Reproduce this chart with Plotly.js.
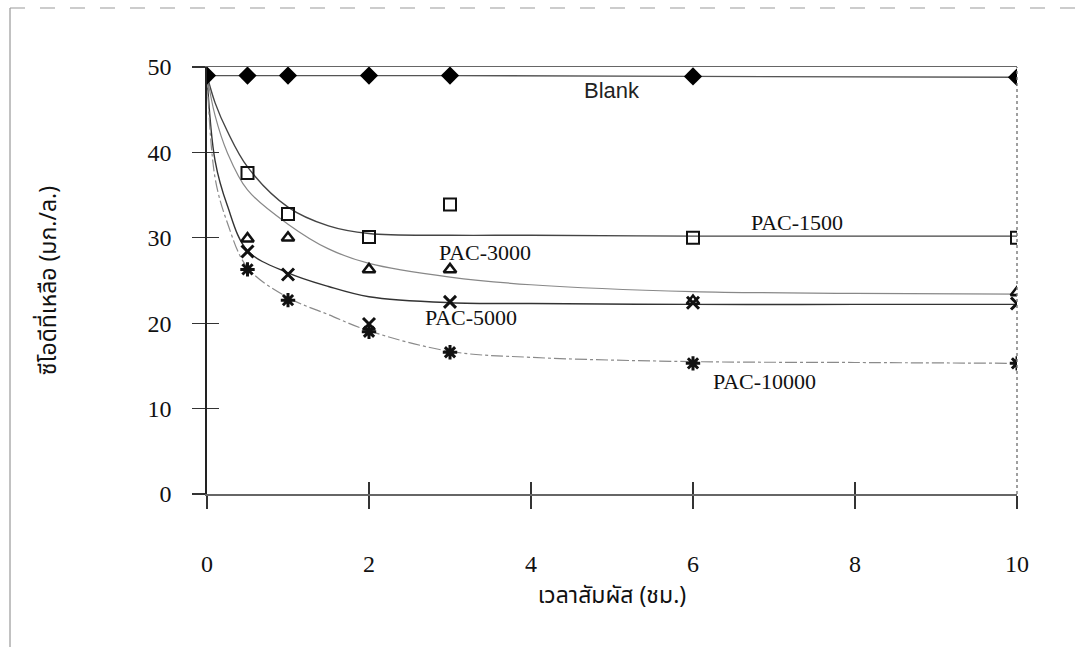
<!DOCTYPE html>
<html>
<head>
<meta charset="utf-8">
<script src="https://cdn.plot.ly/plotly-3.0.1.min.js"></script>
<style>
  html, body { margin: 0; padding: 0; background: #ffffff; }
  #chart { width: 1090px; height: 647px; }
</style>
</head>
<body>
<div id="chart"></div>
<script>
// ---- data ----
const blankTime = [0, 0.5, 1, 2, 3, 6, 10];
const blank     = [49, 49, 49, 49, 49, 48.9, 48.8];

const time      = [0.5, 1, 2, 3, 6, 10];
const pac1500   = [37.6, 32.8, 30.1, 33.9, 30.0, 30.0];
const pac3000   = [29.9, 30.0, 26.3, 26.3, 22.6, 23.6];
const pac5000   = [28.4, 25.7, 19.9, 22.5, 22.4, 22.3];
const pac10000  = [26.3, 22.7, 19.0, 16.6, 15.3, 15.3];

// trend curves as drawn in the picture (read at these times)
const fitTime     = [0, 0.1, 0.25, 0.5, 1, 1.5, 2, 3, 4, 6, 8, 10];
const fit1500     = [49, 45.8, 42.5, 38.3, 33.6, 31.4, 30.5, 30.3, 30.3, 30.2, 30.2, 30.2];
const fit3000     = [49, 44.3, 40.0, 35.6, 31.6, 28.7, 27.0, 25.4, 24.5, 23.7, 23.5, 23.4];
const fit5000     = [49, 39.0, 33.8, 28.5, 25.9, 24.3, 23.1, 22.4, 22.3, 22.2, 22.2, 22.2];
const fit10000    = [49, 37.0, 31.8, 26.5, 23.0, 21.0, 19.1, 16.7, 16.0, 15.5, 15.4, 15.3];

const xTickVals = [0, 2, 4, 6, 8, 10];
const yTickVals = [0, 10, 20, 30, 40, 50];

const xTitle = 'เวลาสัมผัส (ชม.)';
const yTitle = 'ซีโอดีที่เหลือ (มก./ล.)';
const seriesNames = ['Blank', 'PAC-1500', 'PAC-3000', 'PAC-5000', 'PAC-10000'];

// ---- traces ----
const serif = '"Liberation Serif", "Times New Roman", serif';
const thai = '"Noto Sans Thai", "Noto Sans", "DejaVu Sans", sans-serif';

function fitTrace(y, color, width, dash) {
  return { x: fitTime, y: y, type: 'scatter', mode: 'lines',
    line: { shape: 'spline', smoothing: 1.0, color: color, width: width, dash: dash },
    hoverinfo: 'skip', showlegend: false };
}
function markTrace(y, name, symbol, size, lw) {
  return { x: time, y: y, name: name, type: 'scatter', mode: 'markers',
    marker: { symbol: symbol, size: size, color: '#111', line: { color: '#111', width: lw } },
    showlegend: false };
}

const traces = [
  fitTrace(fit1500, '#444', 1.4, 'solid'),
  fitTrace(fit3000, '#888', 1.2, 'solid'),
  fitTrace(fit5000, '#333', 1.4, 'solid'),
  fitTrace(fit10000, '#8a8a8a', 1.2, '12px,3px,3px,3px'),
  // Blank drawn on the overlay axes (same ranges) so the inside tick marks are drawn
  { x: blankTime, y: blank, name: seriesNames[0], type: 'scatter', mode: 'lines+markers',
    xaxis: 'x2', yaxis: 'y2',
    line: { color: '#555', width: 1.3 },
    marker: { symbol: 'diamond', size: 14, color: '#000' }, showlegend: false },
  markTrace(pac1500, seriesNames[1], 'square-open', 12, 2),
  markTrace(pac3000, seriesNames[2], 'triangle-up-open', 11, 2.5),
  markTrace(pac5000, seriesNames[3], 'x-thin-open', 12, 3),
  markTrace(pac10000, seriesNames[4], 'asterisk-open', 12, 3)
];

const layout = {
  width: 1090, height: 647,
  margin: { l: 207, r: 73, t: 67, b: 153 },
  paper_bgcolor: '#ffffff', plot_bgcolor: '#ffffff',
  showlegend: false,
  xaxis: {
    range: [0, 10], tickvals: xTickVals, ticktext: xTickVals.map(String),
    ticks: 'outside', ticklen: 13, tickwidth: 1.3, tickcolor: '#333',
    showline: true, linecolor: '#666', linewidth: 1.5, mirror: true,
    showgrid: false, zeroline: false,
    ticklabelstandoff: 35,
    tickfont: { family: serif, size: 24, color: '#111' },
    title: { text: xTitle, font: { family: thai, size: 23, color: '#111' }, standoff: 10 },
    automargin: true, fixedrange: true
  },
  xaxis2: {
    overlaying: 'x', anchor: 'y2', side: 'bottom', range: [0, 10], tickvals: xTickVals,
    ticks: 'inside', ticklen: 12, tickwidth: 1.3, tickcolor: '#333',
    showticklabels: false, showline: false, showgrid: false, zeroline: false, fixedrange: true
  },
  yaxis: {
    range: [0, 50], tickvals: yTickVals, ticktext: yTickVals.map(String),
    ticks: 'outside', ticklen: 13, tickwidth: 1.3, tickcolor: '#333',
    showline: true, linecolor: '#222', linewidth: 1.6,
    showgrid: false, zeroline: false,
    ticklabelstandoff: 16,
    tickfont: { family: serif, size: 24, color: '#111' },
    title: { text: yTitle, font: { family: thai, size: 23, color: '#111' }, standoff: 84 },
    automargin: true, fixedrange: true
  },
  yaxis2: {
    overlaying: 'y', anchor: 'x2', side: 'left', range: [0, 50], tickvals: yTickVals,
    ticks: 'inside', ticklen: 12, tickwidth: 1.3, tickcolor: '#333',
    showticklabels: false, showline: false, showgrid: false, zeroline: false, fixedrange: true
  },
  shapes: [
    // right border of the plot box
    { type: 'line', xref: 'paper', yref: 'paper', x0: 1, x1: 1, y0: 0, y1: 1,
      line: { color: '#777', width: 1.4, dash: 'dot' } },
    // outer frame of the scanned figure (top and left only)
    { type: 'line', xref: 'paper', yref: 'paper', x0: -0.2432, x1: 1.0901, y0: 1.1382, y1: 1.1382,
      line: { color: '#999', width: 1.2, dash: 'longdash' } },
    { type: 'line', xref: 'paper', yref: 'paper', x0: -0.2432, x1: -0.2432, y0: 1.1382, y1: -0.3583,
      line: { color: '#999', width: 1.2 } }
  ],
  annotations: [
    { x: 5.0, y: 47.3, xref: 'x', yref: 'y', text: seriesNames[0], showarrow: false,
      font: { family: '"Liberation Sans", Arial, sans-serif', size: 22, color: '#222' } },
    { x: 7.28, y: 31.85, xref: 'x', yref: 'y', text: seriesNames[1], showarrow: false,
      font: { family: serif, size: 22, color: '#111' } },
    { x: 3.43, y: 28.3, xref: 'x', yref: 'y', text: seriesNames[2], showarrow: false,
      font: { family: serif, size: 22, color: '#111' } },
    { x: 3.26, y: 20.7, xref: 'x', yref: 'y', text: seriesNames[3], showarrow: false,
      font: { family: serif, size: 22, color: '#111' } },
    { x: 6.88, y: 13.2, xref: 'x', yref: 'y', text: seriesNames[4], showarrow: false,
      font: { family: serif, size: 22, color: '#111' } }
  ]
};

Plotly.newPlot('chart', traces, layout, { staticPlot: true, displayModeBar: false });
</script>
</body>
</html>
